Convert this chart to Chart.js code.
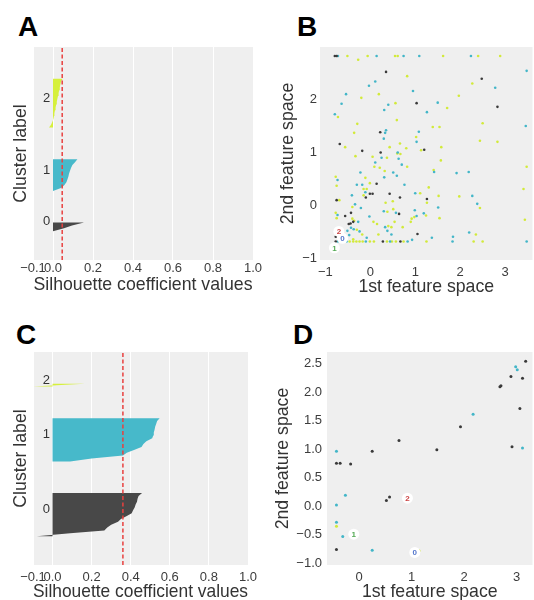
<!DOCTYPE html>
<html lang="en">
<head>
    <meta charset="UTF-8">
    <title>Silhouette analysis</title>
    <script src="https://cdn.jsdelivr.net/npm/chart.js"></script>
    <style>
        html, body {
            margin: 0;
            padding: 0;
            background-color: #fff;
            overflow: hidden;
            width: 534px;
            height: 600px;
        }
        .panel {
            position: absolute;
        }
        .letter {
            position: absolute;
            font-family: "Liberation Sans", Arial, sans-serif;
            font-weight: bold;
            font-size: 28px;
            line-height: 28px;
            color: #000;
        }
    </style>
</head>
<body>
    <div class="letter" style="left:18px; top:13px;">A</div>
    <div class="letter" style="left:297px; top:13px;">B</div>
    <div class="letter" style="left:16px; top:321px;">C</div>
    <div class="letter" style="left:293px; top:321px;">D</div>

    <canvas id="chartA" class="panel" width="267" height="300" style="left:0; top:0;"></canvas>
    <canvas id="chartB" class="panel" width="271" height="300" style="left:267px; top:0;"></canvas>
    <canvas id="chartC" class="panel" width="267" height="300" style="left:0; top:305px;"></canvas>
    <canvas id="chartD" class="panel" width="271" height="300" style="left:267px; top:305px;"></canvas>

    <script>
        // silhouette values per cluster, sorted ascending (bottom to top)
        const silA0 = [0.002, 0.055, 0.095, 0.155];
        const silA1 = [0.003, 0.04, 0.056, 0.067, 0.072, 0.077, 0.08, 0.085, 0.09, 0.097, 0.11, 0.122];
        const silA2 = [-0.02, -0.01, -0.003, 0.002, 0.005, 0.007, 0.01, 0.013, 0.016, 0.019, 0.022, 0.025, 0.028, 0.031, 0.034, 0.037, 0.04, 0.048];
        const silAvgA = 0.046;

        const silC0 = [-0.08, 0.09, 0.265, 0.28, 0.3, 0.335, 0.35, 0.38, 0.405, 0.412, 0.42, 0.425, 0.432, 0.435, 0.44, 0.458];
        const silC1 = [0.09, 0.2, 0.36, 0.38, 0.42, 0.455, 0.465, 0.48, 0.51, 0.515, 0.518, 0.522, 0.525, 0.53, 0.535, 0.548];
        const silC2 = [-0.1, 0.165];
        const silAvgC = 0.36;

        const silTicks = [-0.1, 0.0, 0.2, 0.4, 0.6, 0.8, 1.0];
        const clusterLabels = ['0', '1', '2'];

        // scatter points [x, y] per cluster, panel B
        const bPoints0 = [[-0.79,2.82],[-0.75,2.82],[0.35,2.52],[1.03,1.93],[0.22,1.38],[-0.68,1.16],[-0.18,1.03],[0.23,1.00],[1.20,1.05],[2.48,2.39],[2.83,1.86],[0.14,0.41],[-0.01,0.22],[0.05,0.22],[-0.10,0.15],[0.43,0.22],[0.66,0.15],[-0.75,0.10],[0.64,-0.16],[-0.56,-0.20],[-0.43,-0.14],[-0.44,-0.34],[-0.38,-0.31],[1.05,-0.54],[1.26,0.12],[-0.77,-0.68],[0.28,-0.68],[0.67,-0.68],[-0.77,-0.59],[-0.48,-0.35]];
        const bPoints1 = [[-0.72,2.82],[0.14,2.82],[0.74,2.82],[1.09,2.82],[0.11,2.34],[-0.03,2.26],[0.95,2.16],[-0.54,2.10],[-0.64,1.92],[0.40,1.90],[0.31,1.80],[-0.79,1.72],[0.35,1.42],[0.33,1.37],[1.08,1.39],[0.30,1.26],[1.03,1.20],[0.61,1.00],[2.24,2.82],[3.48,2.54],[2.78,2.22],[1.50,1.94],[1.26,1.76],[3.46,1.50],[0.25,0.90],[0.63,0.88],[0.11,0.81],[0.70,0.77],[-0.22,0.62],[0.51,0.62],[0.59,0.56],[0.31,0.53],[-0.73,0.48],[-0.30,0.39],[-0.18,0.39],[0.76,0.39],[-0.11,0.25],[-0.41,0.19],[1.00,0.23],[-0.34,0.02],[-0.21,-0.05],[0.30,-0.11],[0.57,-0.14],[0.99,-0.09],[1.03,-0.20],[1.19,-0.15],[-0.73,-0.18],[-0.27,-0.31],[-0.02,-0.21],[0.33,-0.41],[0.38,-0.48],[0.47,-0.55],[-0.43,-0.42],[-0.37,-0.45],[-0.24,-0.49],[-0.51,-0.48],[-0.47,-0.56],[-0.08,-0.61],[-0.72,-0.68],[-0.53,-0.68],[-0.10,-0.68],[0.44,-0.68],[0.83,-0.68],[0.93,-0.65],[1.42,0.63],[1.92,0.61],[2.19,0.63],[2.27,0.18],[2.38,0.03],[1.51,-0.04],[2.20,-0.51],[1.37,-0.61],[1.84,-0.59],[1.83,-0.68],[3.48,-0.68]];
        const bPoints2 = [[-0.51,2.82],[-0.27,2.75],[-0.06,2.82],[0.55,2.82],[0.61,2.82],[0.82,2.44],[0.19,2.10],[-0.20,2.03],[0.56,1.93],[-0.72,1.67],[0.59,1.61],[-0.29,1.54],[-0.36,1.37],[1.02,1.29],[0.66,1.17],[-0.56,1.10],[0.43,1.10],[0.80,1.08],[1.13,1.04],[1.62,2.82],[2.40,2.82],[2.89,2.82],[2.27,2.30],[1.97,2.07],[1.71,1.84],[2.50,1.55],[1.39,1.48],[1.54,1.48],[2.44,1.22],[2.83,1.20],[1.58,1.10],[0.05,0.92],[-0.33,0.93],[0.37,0.90],[0.60,0.98],[0.67,0.97],[0.09,0.73],[0.21,0.71],[0.32,0.65],[0.82,0.73],[-0.77,0.54],[-0.11,0.52],[-0.75,0.37],[-0.01,0.42],[-0.15,0.31],[-0.08,0.31],[-0.15,0.19],[1.11,0.23],[0.50,0.08],[0.34,0.05],[-0.69,0.10],[-0.40,-0.03],[0.38,-0.12],[0.51,-0.07],[0.98,-0.22],[0.92,-0.25],[-0.77,-0.14],[-0.75,-0.24],[-0.40,-0.25],[-0.36,-0.29],[0.07,-0.31],[0.15,-0.35],[0.54,-0.31],[0.40,-0.39],[0.47,-0.41],[0.72,-0.41],[0.90,-0.31],[0.18,-0.55],[-0.30,-0.46],[-0.18,-0.55],[-0.38,-0.64],[-0.64,-0.68],[-0.46,-0.68],[-0.38,-0.68],[-0.31,-0.68],[-0.24,-0.68],[-0.17,-0.68],[-0.01,-0.68],[0.08,-0.68],[0.37,-0.68],[0.48,-0.68],[0.57,-0.68],[0.74,-0.68],[1.57,0.85],[1.41,0.67],[3.48,0.73],[1.30,0.34],[3.41,0.31],[1.52,0.18],[1.98,0.17],[1.26,0.05],[2.44,-0.05],[1.24,-0.19],[1.54,-0.24],[3.44,-0.27],[2.35,-0.55],[1.25,-0.68],[2.30,-0.68],[2.50,-0.68]];
        const bCenters = [[-0.62,-0.62],[-0.80,-0.80],[-0.70,-0.49]];
        const bTicksX = [-1, 0, 1, 2, 3];
        const bTicksY = [-1, 0, 1, 2];

        // panel D
        const dPoints0 = [[3.17,2.54],[2.89,2.27],[3.11,2.24],[2.70,2.11],[2.68,2.09],[3.06,1.71],[1.93,1.39],[0.76,1.15],[2.91,1.04],[1.48,0.99],[0.25,0.96],[-0.43,0.75],[-0.36,0.75],[-0.16,0.74],[0.58,0.16],[0.52,0.10],[-0.43,-0.76]];
        const dPoints1 = [[2.98,2.44],[3.01,2.39],[2.17,1.61],[3.11,1.02],[-0.43,0.96],[-0.26,0.19],[-0.43,0.02],[-0.43,-0.28],[-0.31,-0.53],[0.25,-0.77]];
        const dPoints2 = [[-0.43,-0.35],[1.14,-0.78]];
        const dCenters = [[1.06,-0.81],[-0.10,-0.49],[0.92,0.14]];
        const dTicksX = [0, 1, 2, 3];
        const dTicksY = [-1.0, -0.5, 0.0, 0.5, 1.0, 1.5, 2.0, 2.5];

        const clusterColors = ['#3a3a3a', '#43b6c8', '#d2ea3a'];
        const fillColors = ['#484848', '#47b9ca', '#d6f03c'];
        const centerTextColors = ['#5577cc', '#55aa55', '#cc4444'];

        const FONT = '"Liberation Sans", Arial, sans-serif';
        const textColor = '#333';
        const tickColor = '#3c3c3c';
        const N_SAMPLES = 34;

        const minus = s => s.replace('-', '\u2212');

        const plotBg = {
            id: 'plotBg',
            beforeDraw(chart) {
                const {ctx, chartArea: a} = chart;
                ctx.save();
                ctx.fillStyle = '#efefef';
                ctx.fillRect(a.left, a.top, a.width, a.height);
                ctx.restore();
            }
        };

        function fixedTicks(list) {
            return scale => { scale.ticks = list.map(v => ({value: v})); };
        }

        function silhouetteChart(id, clusters, avg, opts) {
            const datasets = [];
            const labelPos = [];
            let yLower = 10;
            clusters.forEach((vals, i) => {
                const pts = [{x: 0, y: yLower}];
                vals.forEach((v, k) => pts.push({x: v, y: yLower + k}));
                pts.push({x: 0, y: yLower + vals.length - 1});
                datasets.push({
                    data: pts,
                    borderWidth: 0,
                    borderColor: fillColors[i],
                    backgroundColor: fillColors[i],
                    fill: 'shape',
                    pointRadius: 0,
                    tension: 0,
                    order: 2
                });
                labelPos.push(yLower + 0.5 * vals.length);
                yLower += vals.length + 10;
            });
            // average silhouette score
            datasets.push({
                data: [{x: avg, y: 0}, {x: avg, y: N_SAMPLES + 40}],
                borderColor: '#e8403f',
                borderWidth: 1.5,
                borderDash: [4, 2.5],
                pointRadius: 0,
                fill: false,
                order: 1
            });

            const labelsPlugin = {
                id: 'clusterText',
                afterDatasetsDraw(chart) {
                    const {ctx, scales} = chart;
                    ctx.save();
                    ctx.font = '13px ' + FONT;
                    ctx.fillStyle = textColor;
                    ctx.textAlign = 'left';
                    ctx.textBaseline = 'alphabetic';
                    labelPos.forEach((y, i) => {
                        ctx.fillText(clusterLabels[i], scales.x.getPixelForValue(-0.05), scales.y.getPixelForValue(y));
                    });
                    ctx.restore();
                }
            };

            return new Chart(document.getElementById(id), {
                type: 'line',
                data: {datasets},
                options: {
                    responsive: false,
                    animation: false,
                    layout: {padding: {top: 47, right: opts.right, left: 0, bottom: 0}},
                    plugins: {legend: {display: false}, tooltip: {enabled: false}},
                    scales: {
                        x: {
                            type: 'linear',
                            min: -0.1,
                            max: 1.0,
                            afterBuildTicks: fixedTicks(silTicks),
                            afterFit: s => { s.height = 40; },
                            border: {display: false},
                            grid: {color: '#ffffff', lineWidth: 1, drawTicks: false},
                            ticks: {
                                autoSkip: false,
                                maxRotation: 0,
                                padding: opts.tickPad,
                                color: tickColor,
                                font: {family: FONT, size: 13},
                                callback: v => minus(v.toFixed(1))
                            },
                            title: {
                                display: true,
                                text: 'Silhouette coefficient values',
                                color: textColor,
                                font: {family: FONT, size: 17.7, lineHeight: 1.2},
                                padding: {top: 0, bottom: opts.titlePad}
                            }
                        },
                        y: {
                            type: 'linear',
                            min: 0,
                            max: N_SAMPLES + 40,
                            afterFit: s => { s.width = 33; },
                            border: {display: false},
                            grid: {display: false},
                            ticks: {display: false},
                            title: {
                                display: true,
                                text: 'Cluster label',
                                color: textColor,
                                font: {family: FONT, size: 17.7, lineHeight: 1.2},
                                padding: {top: 10, bottom: 0}
                            }
                        }
                    }
                },
                plugins: [plotBg, labelsPlugin]
            });
        }

        function scatterChart(id, groups, centers, opts) {
            const datasets = groups.map((pts, i) => ({
                data: pts.map(p => ({x: p[0], y: p[1]})),
                backgroundColor: clusterColors[i],
                borderWidth: 0,
                pointRadius: opts.radius,
                order: 2
            }));
            // cluster centres
            datasets.push({
                data: centers.map(p => ({x: p[0], y: p[1]})),
                backgroundColor: '#ffffff',
                borderWidth: 0,
                pointRadius: 5.5,
                order: 1
            });

            const centerText = {
                id: 'centerText',
                afterDatasetsDraw(chart) {
                    const {ctx, scales} = chart;
                    ctx.save();
                    ctx.font = 'bold 8px ' + FONT;
                    ctx.textAlign = 'center';
                    ctx.textBaseline = 'middle';
                    centers.forEach((p, i) => {
                        ctx.fillStyle = centerTextColors[i];
                        ctx.fillText(clusterLabels[i], scales.x.getPixelForValue(p[0]), scales.y.getPixelForValue(p[1]) + 0.5);
                    });
                    ctx.restore();
                }
            };

            return new Chart(document.getElementById(id), {
                type: 'scatter',
                data: {datasets},
                options: {
                    responsive: false,
                    animation: false,
                    layout: {padding: {top: 47, right: 0, left: 0, bottom: 0}},
                    plugins: {legend: {display: false}, tooltip: {enabled: false}},
                    scales: {
                        x: {
                            type: 'linear',
                            min: opts.xMin,
                            max: opts.xMax,
                            afterBuildTicks: fixedTicks(opts.ticksX),
                            afterFit: s => { s.height = 40; },
                            border: {display: false},
                            grid: {display: false, drawTicks: false},
                            ticks: {
                                autoSkip: false,
                                maxRotation: 0,
                                padding: opts.tickPadX,
                                color: tickColor,
                                font: {family: FONT, size: 13},
                                callback: v => minus(opts.fmtX(v))
                            },
                            title: {
                                display: true,
                                text: '1st feature space',
                                color: textColor,
                                font: {family: FONT, size: 17.7, lineHeight: 1.2},
                                padding: {top: 0, bottom: 2.4}
                            }
                        },
                        y: {
                            type: 'linear',
                            min: opts.yMin,
                            max: opts.yMax,
                            afterBuildTicks: fixedTicks(opts.ticksY),
                            afterFit: s => { s.width = opts.left; },
                            border: {display: false},
                            grid: {display: false, drawTicks: false},
                            ticks: {
                                autoSkip: false,
                                padding: opts.tickPadY,
                                color: tickColor,
                                font: {family: FONT, size: 13},
                                callback: v => minus(opts.fmtY(v))
                            },
                            title: {
                                display: true,
                                text: '2nd feature space',
                                color: textColor,
                                font: {family: FONT, size: 17.7, lineHeight: 1.2},
                                padding: {top: opts.yTitlePad, bottom: 0}
                            }
                        }
                    }
                },
                plugins: [plotBg, centerText]
            });
        }

        silhouetteChart('chartA', [silA0, silA1, silA2], silAvgA, {right: 14, tickPad: 1, titlePad: 4.4});
        silhouetteChart('chartC', [silC0, silC1, silC2], silAvgC, {right: 19, tickPad: 5, titlePad: 2.4});

        scatterChart('chartB', [bPoints0, bPoints1, bPoints2], bCenters, {
            xMin: -1.12, xMax: 3.61, yMin: -1.03, yMax: 2.99,
            ticksX: bTicksX, ticksY: bTicksY, left: 53, radius: 1.3,
            tickPadX: 5, tickPadY: 3, yTitlePad: 10,
            fmtX: v => String(v),
            fmtY: v => String(v)
        });
        scatterChart('chartD', [dPoints0, dPoints1, dPoints2], dCenters, {
            xMin: -0.61, xMax: 3.30, yMin: -1.03, yMax: 2.70,
            ticksX: dTicksX, ticksY: dTicksY, left: 60, radius: 1.5,
            tickPadX: 5, tickPadY: 5, yTitlePad: 5.5,
            fmtX: v => String(v),
            fmtY: v => v.toFixed(1)
        });
    </script>
</body>
</html>
